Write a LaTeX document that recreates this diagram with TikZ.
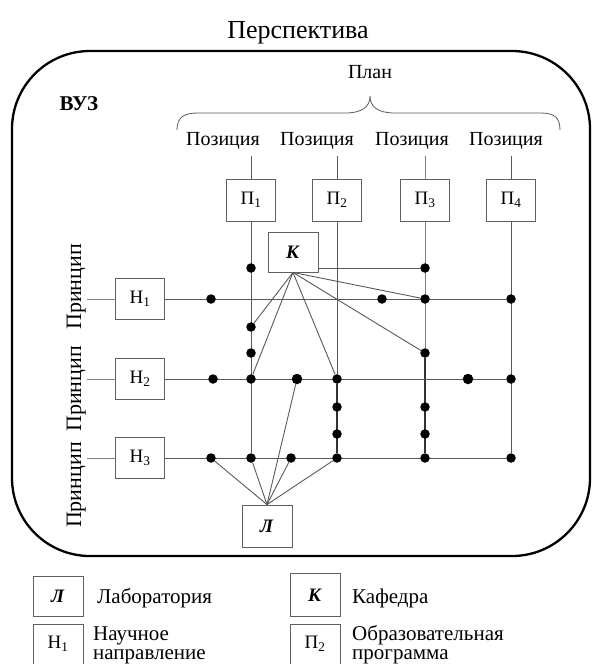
\documentclass[tikz,border=0pt]{standalone}
\usepackage{fontspec}
\setmainfont{Liberation Serif}
\usetikzlibrary{positioning,backgrounds}

\begin{document}
\begin{tikzpicture}[x=1pt,y=-1pt,
  every node/.style={font=\fontsize{20}{18}\selectfont},
  txt/.style={inner sep=0pt, anchor=base},
  prin/.style={txt, rotate=90, font=\fontsize{22}{22}\selectfont},
  lgd/.style={inner sep=0pt, anchor=base west, font=\fontsize{21}{18}\selectfont},
  box/.style={draw=gray!75!black, line width=0.9pt, minimum width=49pt,
    minimum height=42pt, inner sep=0pt, font=\fontsize{19}{19}\selectfont},
  dot/.style={circle, fill=black, inner sep=0pt, minimum size=9.5pt},
  ln/.style={draw=gray!70!black, line width=0.9pt},
  thk/.style={draw=black!80, line width=1.5pt}]
\useasboundingbox (0,0) rectangle (592,664);

% frame
\draw[line width=2.3pt, rounded corners=78pt] (12,51) rectangle (590,556);
\node[txt, font=\fontsize{26}{26}\selectfont] (persp) at (298,38) {Перспектива};
\node[txt, font=\fontsize{21}{21}\selectfont\bfseries] (vuz) at (79,110) {ВУЗ};

% plan
\node[txt] (plan) at (370,78) {План};
\draw[ln, line width=0.8pt] (177,130) .. controls (177,117) and (184,113) .. (198,113)
  -- (345,113) .. controls (362,113) and (370,107) .. (370,96)
  .. controls (370,107) and (378,113) .. (395,113)
  -- (540,113) .. controls (554,113) and (560,117) .. (560,130);
\node[txt] (pos1) at (223,145) {Позиция};
\node[txt] (pos2) at (317,145) {Позиция};
\node[txt] (pos3) at (412,145) {Позиция};
\node[txt] (pos4) at (506,145) {Позиция};

% programs
\node[box] (p1) at (251,200) {П\textsubscript{1}};
\node[box] (p2) at (337,200) {П\textsubscript{2}};
\node[box] (p3) at (425,200) {П\textsubscript{3}};
\node[box] (p4) at (511,200) {П\textsubscript{4}};
\coordinate (t1) at (251,156);
\coordinate (t2) at (337,156);
\coordinate (t3) at (425,156);
\coordinate (t4) at (511,156);

% directions
\node[box, minimum height=41pt] (h1) at (140,299) {Н\textsubscript{1}};
\node[box, minimum height=41pt] (h2) at (140,379) {Н\textsubscript{2}};
\node[box, minimum height=41pt] (h3) at (140,458) {Н\textsubscript{3}};
\coordinate (s1) at (87,299);
\coordinate (s2) at (87,379);
\coordinate (s3) at (87,458);
\node[prin] (pr1) at (81,287) {Принцип};
\node[prin] (pr2) at (81,389) {Принцип};
\node[prin] (pr3) at (81,485) {Принцип};

\node[box, minimum width=50pt, minimum height=40pt] (kaf) at (293,252) {\textbf{\textit{К}}};
\node[box, minimum width=50pt] (lab) at (267,526) {\textbf{\textit{Л}}};

% dots
\node[dot] (k1) at (251,268) {};
\node[dot] (c1u) at (251,327) {};
\node[dot] (c1v) at (251,353) {};
\node[dot] (x12) at (251,379) {};
\node[dot] (x13) at (251,458) {};
\node[dot] (x22) at (337,379) {};
\node[dot] (c2u) at (337,407) {};
\node[dot] (c2v) at (337,434) {};
\node[dot] (x23) at (337,458) {};
\node[dot] (k3) at (425,268) {};
\node[dot] (x31) at (425,299) {};
\node[dot] (c3u) at (425,353) {};
\node[dot] (c3v) at (425,407) {};
\node[dot] (c3w) at (425,434) {};
\node[dot] (x33) at (425,458) {};
\node[dot] (x41) at (511,299) {};
\node[dot] (x42) at (511,379) {};
\node[dot] (x43) at (511,458) {};
\node[dot] (r1a) at (211,299) {};
\node[dot] (r1b) at (382,299) {};
\node[dot] (r2a) at (213,379) {};
\node[dot, minimum size=10.5pt] (r2b) at (297,379) {};
\node[dot, minimum size=10.5pt] (r2c) at (468,379) {};
\node[dot] (r3a) at (211,458) {};
\node[dot] (r3b) at (291,458) {};

% connectors
\begin{scope}[on background layer]
\draw[ln] (t1) -- (p1) -- (x13);
\draw[ln] (t2) -- (p2) -- (x23);
\draw[ln, draw=gray] (t3) -- (p3) -- (x33);
\draw[ln] (t4) -- (p4) -- (x43);
\draw[thk] (x22) -- (x23);
\draw[thk] (c3u) -- (x33);
\draw[ln, draw=gray] (s1) -- (h1);
\draw[ln, draw=gray] (s2) -- (h2);
\draw[ln, draw=gray] (s3) -- (h3);
\draw[ln] (h1) -- (x41);
\draw[ln] (h2) -- (x42);
\draw[ln] (h3) -- (x43);
\draw[ln] (k3 -| kaf.east) -- (k3);
\foreach \d in {x31,c3u,x22,c1u,x12}
  \draw[ln] (kaf.south) -- (\d);
\foreach \d in {r3a,x13,r3b,x23,r2b}
  \draw[ln] (lab.north) -- (\d);
\end{scope}

% legend
\node[box, minimum width=50pt, minimum height=40pt] (lgl) at (58,596) {\textbf{\textit{Л}}};
\node[lgd] (lgltxt) at (97,603) {Лаборатория};
\node[box, minimum width=50pt, minimum height=43pt] (lgk) at (315,595) {\textbf{\textit{К}}};
\node[lgd] (lgktxt) at (352,603) {Кафедра};
\node[box, minimum width=50pt, minimum height=40pt] (lgh) at (58,644) {Н\textsubscript{1}};
\node[lgd] (lgh1) at (93,640) {Научное};
\node[lgd] (lgh2) at (93,659) {направление};
\node[box, minimum width=50pt, minimum height=40pt] (lgp) at (315,644) {П\textsubscript{2}};
\node[lgd] (lgp1) at (352,640) {Образовательная};
\node[lgd] (lgp2) at (352,659) {программа};
\end{tikzpicture}
\end{document}
